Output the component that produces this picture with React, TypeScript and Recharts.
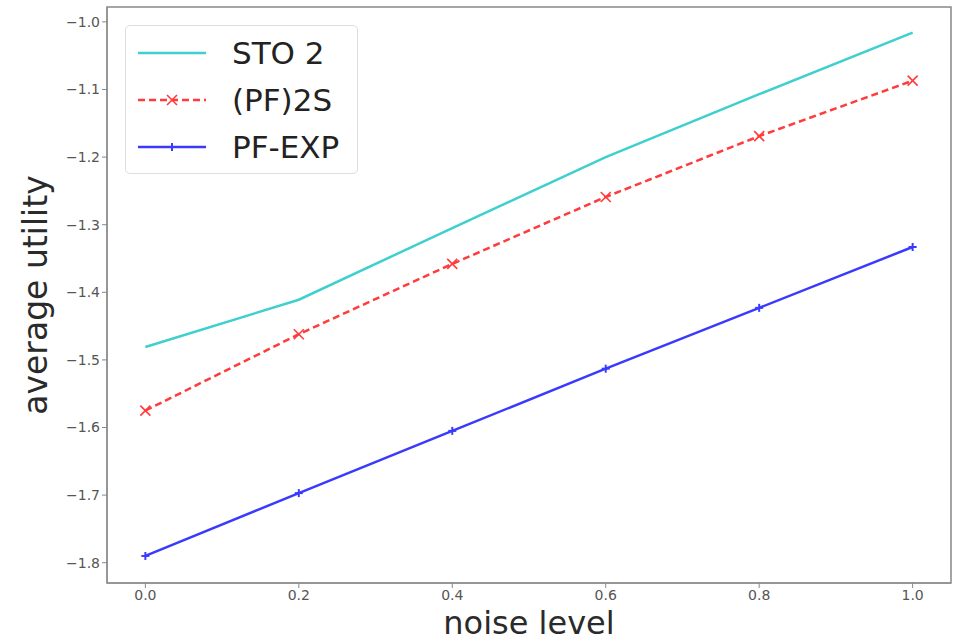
import {
  LineChart,
  Line,
  XAxis,
  YAxis,
  ReferenceArea,
} from "recharts";

const noise = [0.0, 0.2, 0.4, 0.6, 0.8, 1.0];
const sto2 = [-1.481, -1.411, -1.305, -1.2, -1.107, -1.016];
const pf2s = [-1.575, -1.462, -1.358, -1.259, -1.169, -1.087];
const pfExp = [-1.79, -1.697, -1.605, -1.513, -1.423, -1.333];

const xTicks = [0.0, 0.2, 0.4, 0.6, 0.8, 1.0];
const yTicks = [-1.8, -1.7, -1.6, -1.5, -1.4, -1.3, -1.2, -1.1, -1.0];

const data = noise.map((n, i) => ({
  noise: n,
  sto2: sto2[i],
  pf2s: pf2s[i],
  pfExp: pfExp[i],
}));

const CYAN = "#3fcfcf";
const RED = "#ff3b3b";
const BLUE = "#3a3aff";
const FONT = "'DejaVu Sans', sans-serif";

function CrossDot(props: any) {
  const { cx, cy } = props;
  if (cx == null || cy == null) return null;
  const s = 5;
  return (
    <g stroke={RED} strokeWidth={1.6}>
      <line x1={cx - s} y1={cy - s} x2={cx + s} y2={cy + s} />
      <line x1={cx - s} y1={cy + s} x2={cx + s} y2={cy - s} />
    </g>
  );
}

function PlusDot(props: any) {
  const { cx, cy } = props;
  if (cx == null || cy == null) return null;
  const s = 4;
  return (
    <g stroke={BLUE} strokeWidth={2}>
      <line x1={cx - s} y1={cy} x2={cx + s} y2={cy} />
      <line x1={cx} y1={cy - s} x2={cx} y2={cy + s} />
    </g>
  );
}

function XLabel(props: any) {
  const { viewBox } = props;
  const cx = viewBox.x + viewBox.width / 2;
  return (
    <text
      x={cx}
      y={viewBox.y + 51}
      textAnchor="middle"
      fontSize={32}
      fill="#2a2a2a"
      fontFamily={FONT}
    >
      noise level
    </text>
  );
}

function YLabel(props: any) {
  const { viewBox } = props;
  const cy = viewBox.y + viewBox.height / 2;
  const x = 47;
  return (
    <text
      x={x}
      y={cy}
      transform={`rotate(-90, ${x}, ${cy})`}
      textAnchor="middle"
      fontSize={33}
      fill="#2a2a2a"
      fontFamily={FONT}
    >
      average utility
    </text>
  );
}

const legendItems = [
  { label: "STO 2", color: CYAN, dash: undefined, marker: null },
  { label: "(PF)2S", color: RED, dash: "7 4", marker: "x" },
  { label: "PF-EXP", color: BLUE, dash: undefined, marker: "+" },
];

function LegendBox() {
  return (
    <div
      style={{
        position: "absolute",
        left: 125,
        top: 25,
        border: "1px solid #ddd",
        borderRadius: 5,
        background: "rgba(255,255,255,0.85)",
        width: 233,
        height: 149,
        boxSizing: "border-box",
        padding: "3px 0 0 0",
        fontFamily: FONT,
      }}
    >
      {legendItems.map((it) => (
        <div
          key={it.label}
          style={{ display: "flex", alignItems: "center", height: 47 }}
        >
          <svg width={100} height={20} style={{ marginLeft: 10 }}>
            <line
              x1={2}
              y1={10}
              x2={70}
              y2={10}
              stroke={it.color}
              strokeWidth={2.5}
              strokeDasharray={it.dash}
            />
            {it.marker === "x" && <CrossDot cx={36} cy={10} />}
            {it.marker === "+" && <PlusDot cx={36} cy={10} />}
          </svg>
          <span style={{ fontSize: 31, color: "#222", marginLeft: -4 }}>
            {it.label}
          </span>
        </div>
      ))}
    </div>
  );
}

export default function App() {
  return (
    <div style={{ position: "absolute", left: 0, top: 0, background: "#fff" }}>
      <LineChart
        width={964}
        height={643}
        data={data}
        margin={{ top: 7, right: 13, left: 0, bottom: 0 }}
      >
        <XAxis
          dataKey="noise"
          type="number"
          domain={[-0.05, 1.05]}
          ticks={xTicks}
          tickFormatter={(v: number) => v.toFixed(1)}
          height={60}
          stroke="#888"
          tickSize={5}
          tick={{ fontSize: 14, fill: "#555", fontFamily: FONT }}
          label={<XLabel />}
        />
        <YAxis
          type="number"
          domain={[-1.83, -0.978]}
          ticks={yTicks}
          tickFormatter={(v: number) => "\u2212" + Math.abs(v).toFixed(1)}
          width={107}
          stroke="#888"
          tickSize={5}
          tick={{ fontSize: 14, fill: "#555", fontFamily: FONT }}
          allowDataOverflow
          label={<YLabel />}
        />
        <ReferenceArea
          x1={-0.05}
          x2={1.05}
          y1={-1.83}
          y2={-0.978}
          fill="none"
          stroke="#888"
          strokeWidth={1.5}
          ifOverflow="extendDomain"
        />
        <Line
          dataKey="sto2"
          stroke={CYAN}
          strokeWidth={2.5}
          dot={false}
          isAnimationActive={false}
        />
        <Line
          dataKey="pf2s"
          stroke={RED}
          strokeWidth={2.5}
          strokeDasharray="7 4"
          dot={<CrossDot />}
          isAnimationActive={false}
        />
        <Line
          dataKey="pfExp"
          stroke={BLUE}
          strokeWidth={2.5}
          dot={<PlusDot />}
          isAnimationActive={false}
        />
      </LineChart>
      <LegendBox />
    </div>
  );
}
